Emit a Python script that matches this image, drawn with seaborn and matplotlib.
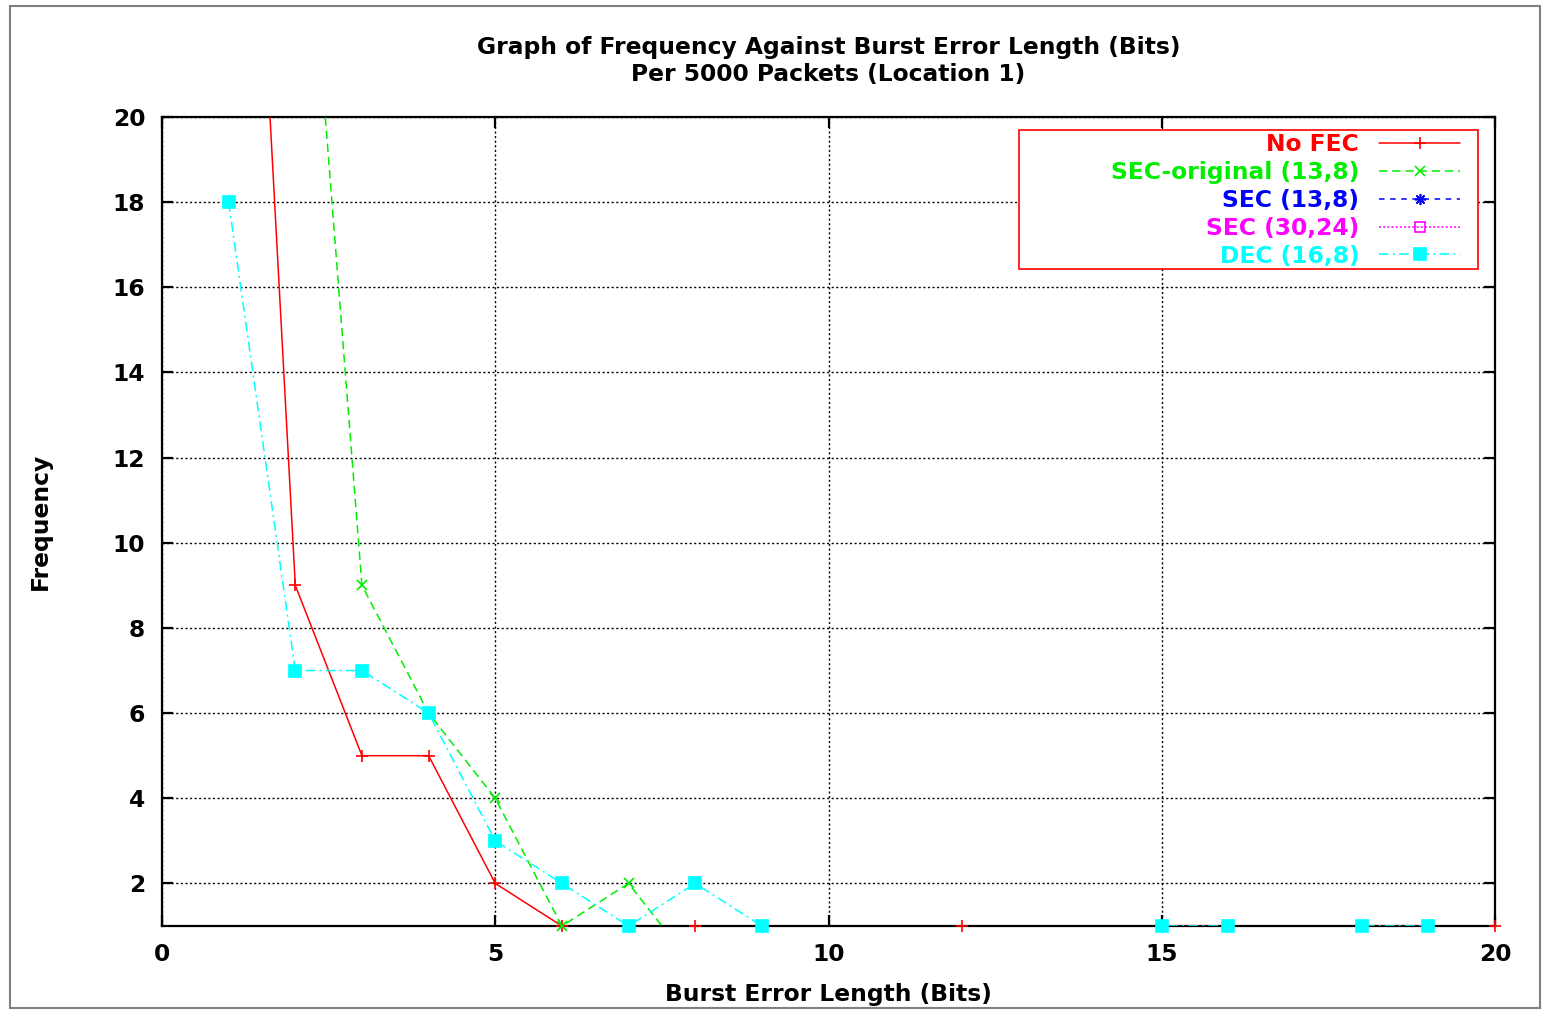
import matplotlib
matplotlib.use("Agg")
import matplotlib.pyplot as plt
from matplotlib.lines import Line2D
from matplotlib.patches import Rectangle
import seaborn as sns
import pandas as pd

# ---------------- data ----------------
burst_length = list(range(1, 21))
no_fec       = [38, 9, 5, 5, 2, 1, 0, 1, 0, 0, 0, 1, 0, 0, 0, 0, 0, 0, 0, 1]
sec_original = [45, 29, 9, 6, 4, 1, 2, 0, 0, 0, 0, 0, 0, 0, 0, 0, 0, 0, 0, 0]
sec_13_8     = [0] * 20
sec_30_24    = [0] * 20
dec_16_8     = [18, 7, 7, 6, 3, 2, 1, 2, 1, 0, 0, 0, 0, 0, 1, 1, 0, 1, 1, 0]

series_names = ["No FEC", "SEC-original (13,8)", "SEC (13,8)", "SEC (30,24)", "DEC (16,8)"]
series_vals = [no_fec, sec_original, sec_13_8, sec_30_24, dec_16_8]
x_ticks = [0, 5, 10, 15, 20]
y_ticks = [2, 4, 6, 8, 10, 12, 14, 16, 18, 20]

title_text = "Graph of Frequency Against Burst Error Length (Bits)\nPer 5000 Packets (Location 1)"
xlabel_text = "Burst Error Length (Bits)"
ylabel_text = "Frequency"

# ---------------- styles ----------------
colors = ["#ff0000", "#00ee00", "#0000ff", "#ff00ff", "#00ffff"]
linestyles = ["-", (0, (6, 3.5)), (0, (4, 4)), (0, (1.5, 1.5)), (0, (7, 3, 1.5, 3))]
markers = ["+", "x", (8, 2, 0), "s", "s"]
msizes = [8, 7, 8, 7, 8.5]
mfaces = [None, None, None, "none", "#00ffff"]
FS = 16.8

sns.set_style("ticks")
plt.rcParams["font.family"] = ["DejaVu Sans"]
plt.rcParams["font.weight"] = "bold"
plt.rcParams["text.color"] = "black"
plt.rcParams["axes.labelcolor"] = "black"
plt.rcParams["xtick.color"] = "black"
plt.rcParams["ytick.color"] = "black"
plt.rcParams["lines.scale_dashes"] = False

W, H = 1542, 1010
fig = plt.figure(figsize=(W / 100, H / 100), dpi=100)
L, R, T, B = 162, 1495, 117, 926
ax = fig.add_axes([L / W, 1 - B / H, (R - L) / W, (B - T) / H])

df = pd.DataFrame({"x": burst_length})
for name, vals, c, ls in zip(series_names, series_vals, colors, linestyles):
    df[name] = vals
    sns.lineplot(data=df, x="x", y=name, ax=ax, color=c, linestyle=ls,
                 linewidth=1.1, zorder=3, legend=False)

# markers (unclipped so points on the bottom axis show fully)
for name, vals, c, m, ms, mf in zip(series_names, series_vals, colors, markers, msizes, mfaces):
    xs = [x for x, v in zip(burst_length, vals) if 1 <= v <= 20]
    ys = [v for v in vals if 1 <= v <= 20]
    if xs:
        ax.plot(xs, ys, linestyle="none", marker=m, markersize=ms, color=c,
                markerfacecolor=(mf if mf else c), markeredgewidth=1.2,
                clip_on=False, zorder=4)

ax.set_xlim(0, 20)
ax.set_ylim(1, 20)
ax.set_xticks(x_ticks)
ax.set_yticks(y_ticks)
ax.grid(True, color="black", linestyle=(0, (1.5, 1.8)), linewidth=1.0, zorder=1)
ax.set_axisbelow(True)
for s in ax.spines.values():
    s.set_linewidth(1.6)
    s.set_color("black")
ax.tick_params(direction="in", length=8, width=1.6, top=True, right=True,
               labelsize=FS, pad=12, colors="black", labelcolor="black")
for lab in ax.get_xticklabels() + ax.get_yticklabels():
    lab.set_fontweight("bold")

ax.set_xlabel(xlabel_text, fontsize=FS, fontweight="bold", va="center", ha="center",
              color="black")
ax.xaxis.set_label_coords(0.5, (B - 995) / (B - T))
ax.set_ylabel(ylabel_text, fontsize=FS, fontweight="bold", va="center", ha="center",
              color="black")
ax.yaxis.set_label_coords((40 - L) / (R - L), 0.5)

fig.text((L + R) / 2 / W, 1 - 61 / H, title_text, ha="center", va="center",
         fontsize=FS, fontweight="bold", linespacing=1.25, color="black")

# legend
handles = []
for name, c, ls, m, ms, mf in zip(series_names, colors, linestyles, markers, msizes, mfaces):
    handles.append(Line2D([], [], color=c, linestyle=ls, linewidth=1.1, marker=m,
                          markersize=ms, markerfacecolor=(mf if mf else c),
                          markeredgewidth=1.2))
leg = ax.legend(handles, series_names, loc="upper right",
                bbox_to_anchor=((1460 - L) / (R - L), (B - 133) / (B - T)),
                frameon=False, markerfirst=False, prop={"size": FS, "weight": "bold"},
                borderpad=0, borderaxespad=0, labelspacing=0.21, handlelength=3.47,
                handletextpad=0.85, numpoints=1)
for t, c in zip(leg.get_texts(), colors):
    t.set_color(c)
leg.set_zorder(6)
ax.add_patch(Rectangle(((1019 - L) / (R - L), (B - 269) / (B - T)),
                       (1478 - 1019) / (R - L), (269 - 130) / (B - T),
                       transform=ax.transAxes, facecolor="white", edgecolor="#ff0000",
                       linewidth=1.2, zorder=5))

# outer grey border
fig.patches.append(Rectangle((10 / W, 2 / H), 1530 / W, 1002 / H, transform=fig.transFigure,
                             fill=False, edgecolor="#808080", linewidth=1.5))

fig.savefig("out.png", dpi=100)
